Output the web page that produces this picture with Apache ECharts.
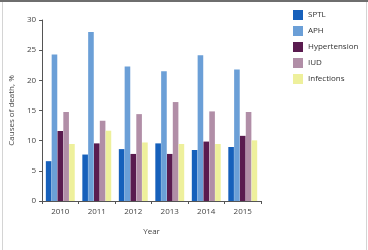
<!DOCTYPE html>
<html>
<head>
<meta charset="utf-8">
<script src="https://cdn.jsdelivr.net/npm/echarts@6/dist/echarts.min.js"></script>
<style>
  html, body { margin: 0; padding: 0; background: #fff; }
  #chart { width: 368px; height: 250px; }
  .edge { position: absolute; background: #d4d4d4; }
</style>
</head>
<body>
<div id="chart"></div>
<div class="edge" style="left:0;top:0;width:368px;height:2px;background:#6e6e6e"></div>
<div class="edge" style="left:2px;top:2px;width:1px;height:248px"></div>
<div class="edge" style="left:366px;top:2px;width:1px;height:248px"></div>
<script>
// years on the x axis
var years = ['2010', '2011', '2012', '2013', '2014', '2015'];
// causes of death, % per year
var sptl = [6.6, 7.7, 8.6, 9.55, 8.45, 8.95];
var aph = [24.3, 28.0, 22.3, 21.5, 24.15, 21.8];
var hypertension = [11.6, 9.55, 7.8, 7.8, 9.85, 10.8];
var iud = [14.75, 13.3, 14.4, 16.4, 14.85, 14.75];
var infections = [9.45, 11.65, 9.7, 9.45, 9.45, 10.05];

var names = ['SPTL', 'APH', 'Hypertension', 'IUD', 'Infections'];
var colors = ['#1660bb', '#6b9fd7', '#5a1b4f', '#b18ea7', '#eef09c'];
var values = [sptl, aph, hypertension, iud, infections];

var font = 'Open Sans';
var series = [];
for (var i = 0; i < names.length; i++) {
    series.push({
        name: names[i],
        type: 'bar',
        data: values[i],
        barWidth: 5.6,
        barGap: '4%',
        itemStyle: { color: colors[i] }
    });
}

var option = {
    animation: false,
    textStyle: { fontFamily: font },
    legend: {
        orient: 'vertical',
        left: 288,
        top: 5,
        itemWidth: 10,
        itemHeight: 10,
        itemGap: 6,
        icon: 'rect',
        textStyle: { fontSize: 8, color: '#333', fontFamily: font },
        data: names
    },
    grid: { left: 41, right: 107, top: 20, bottom: 49 },
    xAxis: {
        type: 'category',
        data: years,
        name: 'Year',
        nameLocation: 'middle',
        nameGap: 27,
        nameTextStyle: { fontSize: 8, color: '#444' },
        axisLine: { lineStyle: { color: '#555', width: 1 } },
        axisTick: { show: true, length: 3, lineStyle: { color: '#555' } },
        axisLabel: { fontSize: 8, color: '#444', margin: 7 }
    },
    yAxis: {
        type: 'value',
        min: 0,
        max: 30,
        interval: 5,
        name: 'Causes of death, %',
        nameLocation: 'middle',
        nameGap: 20,
        nameTextStyle: { fontSize: 8, color: '#444' },
        splitLine: { show: false },
        axisLine: { show: true, lineStyle: { color: '#555', width: 1 } },
        axisTick: { show: true, length: 3, lineStyle: { color: '#555' } },
        axisLabel: { fontSize: 8, color: '#444', margin: 6 }
    },
    series: series
};

var myChart = echarts.init(document.getElementById('chart'));
myChart.setOption(option);
</script>
</body>
</html>
